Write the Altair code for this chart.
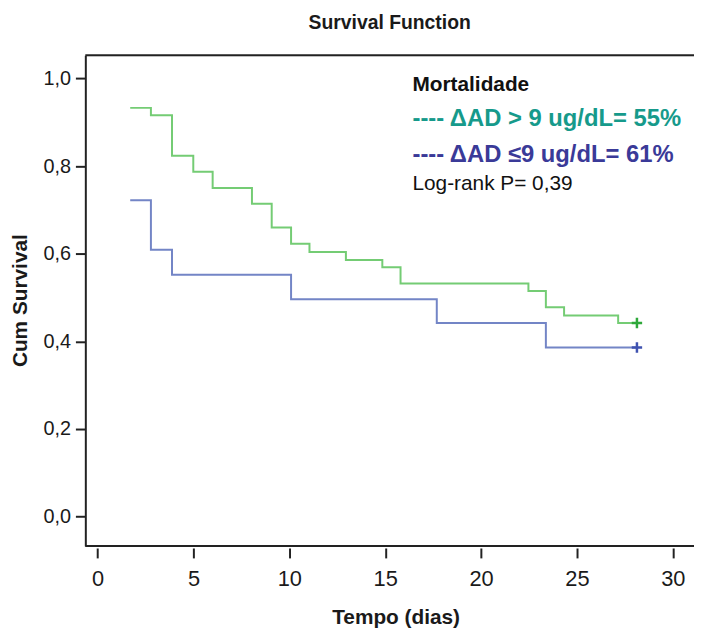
import altair as alt
import pandas as pd

# ---- data ----
green_time = [1.70, 2.78, 3.88, 4.99, 6.00, 8.05, 9.08, 10.09, 11.05, 12.95, 14.85, 15.80, 22.47, 23.38, 24.33, 27.15, 28.13]
green_surv = [0.933, 0.916, 0.824, 0.787, 0.750, 0.714, 0.660, 0.623, 0.604, 0.586, 0.569, 0.532, 0.515, 0.478, 0.459, 0.442, 0.442]
blue_time = [1.70, 2.78, 3.88, 10.09, 17.69, 23.38, 28.13]
blue_surv = [0.722, 0.609, 0.552, 0.496, 0.442, 0.386, 0.386]
censor_series = ["gt9", "le9"]
censor_time = [28.13, 28.13]
censor_surv = [0.442, 0.386]

series_names = ["gt9", "le9"]
line_colors = ["#74cc74", "#7385c6"]
censor_colors = ["#2ea83a", "#3f52b0"]

x_ticks = [0, 5, 10, 15, 20, 25, 30]
y_ticks = [0.0, 0.2, 0.4, 0.6, 0.8, 1.0]

title_text = "Survival Function"
x_title = "Tempo (dias)"
y_title = "Cum Survival"
legend_head = "Mortalidade"
legend_gt = "---- \u0394AD > 9 ug/dL= 55%"
legend_le = "---- \u0394AD \u22649 ug/dL= 61%"
legend_p = "Log-rank P= 0,39"

FONT = "Liberation Sans, Arial, Helvetica, sans-serif"
W, H = 614, 495

df = pd.DataFrame({
    "series": ["gt9"] * len(green_time) + ["le9"] * len(blue_time),
    "time": green_time + blue_time,
    "surv": green_surv + blue_surv,
})
cdf = pd.DataFrame({"series": censor_series, "time": censor_time, "surv": censor_surv})

xscale = alt.Scale(domain=[-0.641, 31.106], nice=False, zero=False)
yscale = alt.Scale(domain=[-0.067, 1.053], nice=False, zero=False)

x_axis = alt.Axis(
    values=x_ticks, format="d", title=x_title, grid=False, domain=False, offset=2,
    tickSize=10, tickWidth=2, tickColor="#222222",
    labelFontSize=22, labelFont=FONT, labelColor="#1a1a1a", labelBaseline="alphabetic",
    labelPadding=28, labelFlush=False, labelOverlap=False,
    titleFont=FONT, titleFontSize=21, titleFontWeight="bold", titleColor="#1a1a1a",
    titleX=313, titleY=76, titleAlign="center", titleBaseline="alphabetic",
)
y_axis = alt.Axis(
    values=y_ticks, labelExpr="replace(format(datum.value, '.1f'), '.', ',')",
    title=y_title, grid=False, domain=True, domainColor="#222222", domainWidth=2,
    tickSize=10, tickWidth=2, tickColor="#222222",
    labelFontSize=20, labelFont=FONT, labelColor="#1a1a1a", labelPadding=5,
    labelFlush=False, labelOverlap=False,
    titleFont=FONT, titleFontSize=21, titleFontWeight="bold", titleColor="#1a1a1a",
    titleX=-59, titleY=247, titleAngle=270, titleAlign="center", titleBaseline="alphabetic",
)

lines = alt.Chart(df).mark_line(interpolate="step-after", strokeWidth=2).encode(
    x=alt.X("time:Q", scale=xscale, axis=x_axis),
    y=alt.Y("surv:Q", scale=yscale, axis=y_axis),
    color=alt.Color("series:N", scale=alt.Scale(domain=series_names, range=line_colors), legend=None),
)

censors = alt.Chart(cdf).mark_point(
    shape="M-1,0H1M0,-1V1", filled=False, size=110, strokeWidth=2.5, opacity=1
).encode(
    x=alt.X("time:Q", scale=xscale),
    y=alt.Y("surv:Q", scale=yscale),
    color=alt.Color("series:N", scale=alt.Scale(domain=series_names, range=censor_colors), legend=None),
)

one = pd.DataFrame({"k": [0]})
top_rule = alt.Chart(one).mark_rule(color="#222222", strokeWidth=2).encode(
    x=alt.value(0), x2=alt.value(W), y=alt.value(0))
bottom_rule = alt.Chart(one).mark_rule(color="#222222", strokeWidth=2).encode(
    x=alt.value(0), x2=alt.value(W), y=alt.value(H))

def txt(text, y, size, weight, color):
    return alt.Chart(one).mark_text(
        text=text, align="left", baseline="alphabetic", font=FONT,
        fontSize=size, fontWeight=weight, color=color,
    ).encode(x=alt.value(330), y=alt.value(y))

t1 = txt(legend_head, 36, 21, "bold", "#111111")
t2 = txt(legend_gt, 71, 24, "bold", "#169a8b")
t3 = txt(legend_le, 107.5, 24, "bold", "#3a3a98")
t4 = txt(legend_p, 136, 21, "normal", "#111111")

chart = alt.layer(lines, censors, top_rule, bottom_rule, t1, t2, t3, t4).resolve_scale(
    color="independent"
).properties(
    width=W, height=H,
    title=alt.TitleParams(title_text, fontSize=19.5, fontWeight="bold", font=FONT, color="#1a1a1a",
                          anchor="middle", frame="group", baseline="alphabetic", offset=6),
    autosize=alt.AutoSizeParams(type="none"),
    padding={"left": 78, "top": 45, "right": 0, "bottom": 81},
).configure_view(fill="#efefef", stroke="transparent").configure(background="white")

chart.save("out.html", embed_options={"renderer": "svg", "actions": False})
